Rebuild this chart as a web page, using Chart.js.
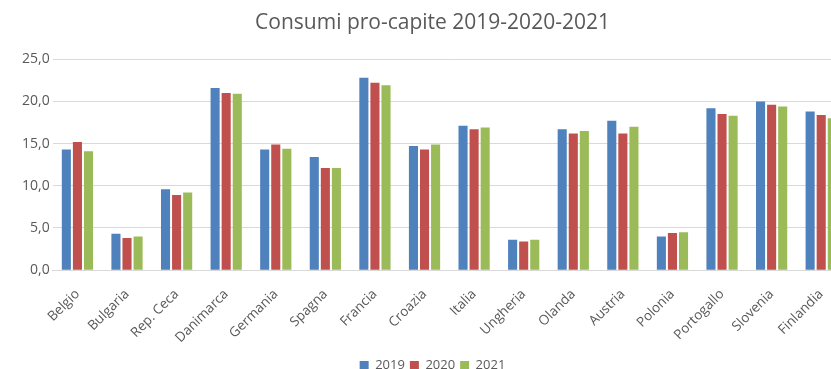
<!DOCTYPE html>
<html>
<head>
<meta charset="utf-8">
<script src="https://cdn.jsdelivr.net/npm/chart.js@4/dist/chart.umd.min.js"></script>
<style>
html,body{margin:0;padding:0;background:#fff;overflow:hidden;width:831px;height:369px;}
#wrap{width:866px;height:382px;}
</style>
</head>
<body>
<div id="wrap"><canvas id="c" width="866" height="382"></canvas></div>
<script>
const categories = ["Belgio","Bulgaria","Rep. Ceca","Danimarca","Germania","Spagna","Francia","Croazia","Italia","Ungheria","Olanda","Austria","Polonia","Portogallo","Slovenia","Finlandia"];
const v2019 = [14.3, 4.3, 9.6, 21.6, 14.3, 13.4, 22.8, 14.7, 17.1, 3.6, 16.7, 17.7, 4.0, 19.2, 20.0, 18.8];
const v2020 = [15.2, 3.8, 8.9, 21.0, 14.9, 12.1, 22.2, 14.3, 16.7, 3.4, 16.2, 16.2, 4.4, 18.5, 19.6, 18.4];
const v2021 = [14.1, 4.0, 9.2, 20.9, 14.4, 12.1, 21.9, 14.9, 16.9, 3.6, 16.5, 17.0, 4.5, 18.3, 19.4, 18.0];
const seriesNames = ["2019","2020","2021"];
const yTicks = [0,5,10,15,20,25];

new Chart(document.getElementById('c'), {
  type: 'bar',
  data: {
    labels: categories,
    datasets: [
      {label: seriesNames[0], data: v2019, backgroundColor: '#4F81BD'},
      {label: seriesNames[1], data: v2020, backgroundColor: '#C0504D'},
      {label: seriesNames[2], data: v2021, backgroundColor: '#9BBB59'}
    ]
  },
  options: {
    responsive: false,
    animation: false,
    layout: {padding: {left: 19, right: 20, top: 0, bottom: 0}},
    datasets: {bar: {categoryPercentage: 0.67, barPercentage: 0.82}},
    plugins: {
      title: {
        display: true,
        text: 'Consumi pro-capite 2019-2020-2021',
        color: '#595959',
        font: {family: 'Open Sans', size: 21, weight: 'normal'},
        padding: {top: 10, bottom: 24}
      },
      legend: {
        position: 'bottom',
        labels: {
          color: '#595959',
          font: {family: 'Open Sans', size: 13},
          boxWidth: 9, boxHeight: 9,
          padding: 5
        }
      },
      tooltip: {enabled: false}
    },
    scales: {
      y: {
        min: 0, max: 25,
        afterBuildTicks: (axis) => { axis.ticks = yTicks.map(v => ({value: v})); },
        ticks: {
          color: '#595959',
          font: {family: 'Open Sans', size: 14},
          callback: (v) => v.toFixed(1).replace('.', ','),
          padding: 3
        },
        grid: {color: '#D9D9D9', drawTicks: false},
        border: {display: false}
      },
      x: {
        ticks: {
          color: '#595959',
          font: {family: 'Open Sans', size: 13.5},
          minRotation: 45, maxRotation: 45,
          padding: 8
        },
        grid: {display: false},
        border: {color: '#D9D9D9'}
      }
    }
  }
});
</script>
</body>
</html>
